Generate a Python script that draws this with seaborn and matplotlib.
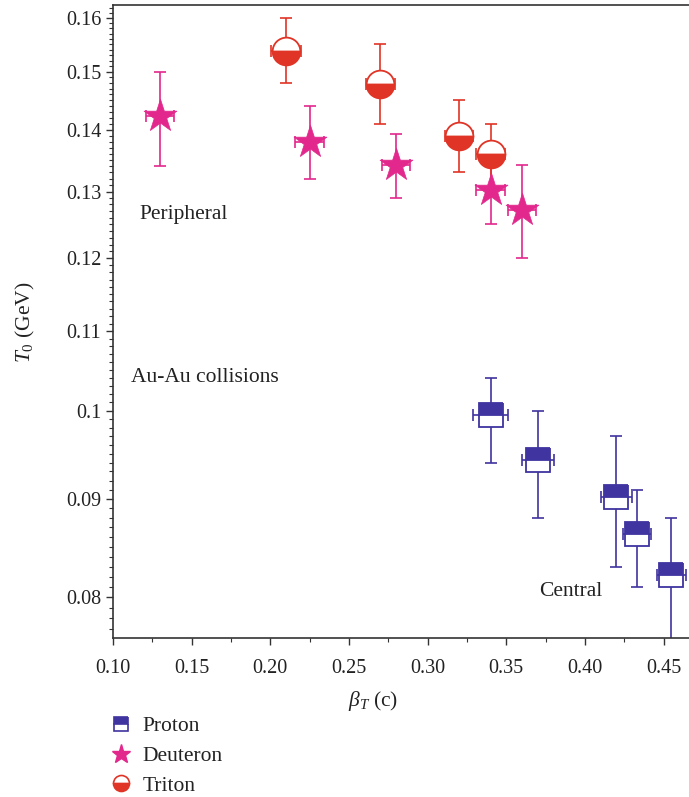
import numpy as np
import pandas as pd
import matplotlib
matplotlib.use("Agg")
import matplotlib.pyplot as plt
from matplotlib.lines import Line2D
from matplotlib.ticker import MultipleLocator, FixedLocator, NullFormatter
import seaborn as sns

# ---- data ----
proton_beta = [0.340, 0.370, 0.420, 0.433, 0.455]
proton_T = [0.0995, 0.0943, 0.0902, 0.0863, 0.0822]
proton_err_up = [0.0045, 0.0057, 0.0068, 0.0047, 0.0058]
proton_err_dn = [0.0055, 0.0063, 0.0072, 0.0053, 0.0072]
proton_xerr = [0.011, 0.010, 0.010, 0.009, 0.009]

deut_beta = [0.130, 0.225, 0.280, 0.340, 0.360]
deut_T = [0.1423, 0.1380, 0.1342, 0.1302, 0.1272]
deut_err_up = [0.0077, 0.0060, 0.0050, 0.0060, 0.0070]
deut_err_dn = [0.0083, 0.0060, 0.0052, 0.0052, 0.0072]
deut_xerr = [0.009, 0.009, 0.009, 0.009, 0.009]

trit_beta = [0.210, 0.270, 0.320, 0.340]
trit_T = [0.1538, 0.1478, 0.1390, 0.1360]
trit_err_up = [0.0062, 0.0072, 0.0060, 0.0050]
trit_err_dn = [0.0058, 0.0068, 0.0060, 0.0060]
trit_xerr = [0.0095, 0.0095, 0.009, 0.009]

y_ticks = [0.08, 0.09, 0.10, 0.11, 0.12, 0.13, 0.14, 0.15, 0.16]
y_ticklabels = ["0.08", "0.09", "0.1", "0.11", "0.12", "0.13", "0.14", "0.15", "0.16"]
x_ticks = [0.10, 0.15, 0.20, 0.25, 0.30, 0.35, 0.40, 0.45]
x_ticklabels = ["0.10", "0.15", "0.20", "0.25", "0.30", "0.35", "0.40", "0.45"]

BLUE = "#3f34a0"
PINK = "#e2288c"
RED = "#e03426"
TXT = "#222222"

sns.set_theme(style="ticks")
plt.rcParams["font.family"] = ["Liberation Serif", "DejaVu Serif"]
plt.rcParams["mathtext.fontset"] = "custom"
plt.rcParams["mathtext.rm"] = "Liberation Serif"
plt.rcParams["mathtext.it"] = "Liberation Serif:italic"

fig = plt.figure(figsize=(6.89, 7.97), dpi=100)
ax = fig.add_axes([113 / 689, 1 - 638 / 797, 1 - 113 / 689 + 0.002, (638 - 5) / 797])

df_p = pd.DataFrame({"beta": proton_beta, "T": proton_T})
df_d = pd.DataFrame({"beta": deut_beta, "T": deut_T})
df_t = pd.DataFrame({"beta": trit_beta, "T": trit_T})

eb_kw = dict(fmt="none", elinewidth=1.2, capsize=4.5, capthick=1.2, zorder=2)
ax.errorbar(df_p["beta"], df_p["T"], yerr=[proton_err_dn, proton_err_up],
            xerr=proton_xerr, ecolor=BLUE, **eb_kw)
ax.errorbar(df_d["beta"], df_d["T"], yerr=[deut_err_dn, deut_err_up],
            xerr=deut_xerr, ecolor=PINK, **eb_kw)
ax.errorbar(df_t["beta"], df_t["T"], yerr=[trit_err_dn, trit_err_up],
            xerr=trit_xerr, ecolor=RED, **eb_kw)

# markers
ax.plot(df_p["beta"], df_p["T"], ls="none", marker="s", ms=17, fillstyle="top",
        color=BLUE, markerfacecoloralt="white", markeredgecolor=BLUE, mew=1.3, zorder=3)
sns.scatterplot(data=df_d, x="beta", y="T", marker="*", s=620, color=PINK,
                edgecolor=PINK, linewidth=0.5, ax=ax, zorder=3, legend=False)
ax.plot(df_t["beta"], df_t["T"], ls="none", marker="o", ms=20, fillstyle="bottom",
        color=RED, markerfacecoloralt="white", markeredgecolor=RED, mew=1.3, zorder=3)

ax.set_yscale("log")
ax.set_xlim(0.10, 0.467)
ax.set_ylim(0.0762, 0.1625)
ax.yaxis.set_major_locator(FixedLocator(y_ticks))
ax.set_yticklabels(y_ticklabels)
ax.yaxis.set_minor_locator(FixedLocator(np.arange(0.077, 0.1625, 0.001)))
ax.yaxis.set_minor_formatter(NullFormatter())
ax.xaxis.set_minor_locator(MultipleLocator(0.025))
ax.set_xticks(x_ticks)
ax.set_xticklabels(x_ticklabels)

ax.tick_params(axis="both", which="major", direction="out", length=5, width=1,
               labelsize=14.5, color="#333333", labelcolor=TXT)
ax.tick_params(axis="x", which="major", pad=10)
ax.tick_params(axis="both", which="minor", direction="out", length=3, width=0.8,
               color="#333333")
ax.tick_params(axis="y", which="both", right=False)
for side in ["left", "bottom", "top"]:
    ax.spines[side].set_color("#333333")
    ax.spines[side].set_linewidth(1.2)
ax.spines["right"].set_visible(False)

ax.set_xlabel(r"$\mathit{\beta}_{\mathit{T}}$ (c)", fontsize=15.5, color=TXT)
ax.xaxis.set_label_coords((373 - 113) / 576, -(701 - 638) / 633)
ax.xaxis.label.set_va("center")
ax.set_ylabel(r"$\mathit{T}_{0}$ (GeV)", fontsize=15.5, color=TXT)
ax.yaxis.set_label_coords(-(113 - 26) / 576, (638 - 322) / 633)
ax.yaxis.label.set_va("center")

ax.text(0.117, 0.1264, "Peripheral", fontsize=15.5, color=TXT, va="center")
ax.text(0.1115, 0.1041, "Au-Au collisions", fontsize=15.5, color=TXT, va="center")
ax.text(0.3707, 0.0806, "Central", fontsize=15.5, color=TXT, va="center")

handles = [
    Line2D([], [], ls="none", marker="s", ms=10.5, fillstyle="top", color=BLUE,
           markerfacecoloralt="white", markeredgecolor=BLUE, mew=1.2),
    Line2D([], [], ls="none", marker="*", ms=14, color=PINK),
    Line2D([], [], ls="none", marker="o", ms=11.5, fillstyle="bottom", color=RED,
           markerfacecoloralt="white", markeredgecolor=RED, mew=1.2),
]
fig.legend(handles, ["Proton", "Deuteron", "Triton"], loc="upper left",
           bbox_to_anchor=(89 / 689, 1 - 697 / 797), frameon=False, fontsize=15.5,
           handletextpad=0.4, labelspacing=0.45, handlelength=1.2,
           labelcolor=TXT)

fig.savefig("out.png", dpi=100)
